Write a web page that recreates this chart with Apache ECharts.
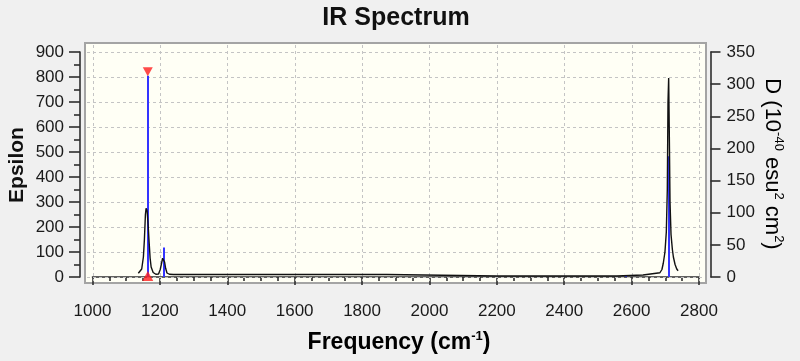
<!DOCTYPE html>
<html>
<head>
<meta charset="utf-8">
<script src="https://cdn.jsdelivr.net/npm/echarts@6/dist/echarts.min.js"></script>
<style>
html,body{margin:0;padding:0;background:#F0F0F0;}
#chart{width:800px;height:361px;}
</style>
</head>
<body>
<div id="chart"></div>
<script>
// ---- data ----
const freqTicks = [1000,1200,1400,1600,1800,2000,2200,2400,2600,2800];
const epsTicks = [0,100,200,300,400,500,600,700,800,900];
const dTicks = [0,50,100,150,200,250,300,350];

const curveFreq = [1136,1141,1146,1151,1154,1157,1159,1162,1165,1168,1171,1174,1180,1188,1196,1201,1205,1208,1211,1214,1217,1221,1228,1240,1500,1873,1876,2200,2556,2560,2634,2638,2684,2690,2694,2699,2703,2706,2708,2710,2712,2714,2717,2721,2724,2729,2734,2738];
const curveEps  = [15,20,32,80,150,250,275,265,210,140,75,40,18,11,12,30,55,75,80,60,35,16,11,10,10,10,4,4,4,8,8,16,17,30,55,100,180,350,700,796,560,300,170,110,80,50,32,25];

const stickFreq = [1164,1211,2582,2712];
const stickD    = [313,46,3,188];

// ---- chart ----
const FONT = "'Liberation Sans', Arial, sans-serif";
const chart = echarts.init(document.getElementById('chart'), null, {renderer:'canvas'});

const gridLine = (vertical) => (params, api) => {
  const cs = params.coordSys;
  if (vertical) {
    const x = Math.round(api.coord([api.value(0), 0])[0]) + 0.5;
    return {type:'line', shape:{x1:x, y1:cs.y+2, x2:x, y2:cs.y+cs.height-2},
      style:{stroke:'#C4C4C4', lineWidth:1, lineDash:[3,3]}, silent:true};
  }
  const y = Math.round(api.coord([1500, api.value(1)])[1]) + 0.5;
  return {type:'line', shape:{x1:cs.x+2, y1:y, x2:cs.x+cs.width-2, y2:y},
    style:{stroke:'#C4C4C4', lineWidth:1, lineDash:[3,3]}, silent:true};
};

const plain = v => String(v);
const axisCommon = {
  axisLine:{show:true, lineStyle:{color:'#2e2e2e', width:1.6}},
  axisTick:{show:true, lineStyle:{color:'#2e2e2e', width:1.6}},
  splitLine:{show:false}
};

const option = {
  backgroundColor:'#F0F0F0',
  animation:false,
  grid:[
    {left:85, top:43, width:621, height:240, show:true, backgroundColor:'#FFFFF5', borderColor:'#A4A4A4', borderWidth:2},
    {left:92.5, right:101, top:52, bottom:84}
  ],
  xAxis:[
    {gridIndex:0, type:'value', min:977.7, max:2820.8, show:false},
    Object.assign({}, axisCommon, {
      gridIndex:1, type:'value', min:1000, max:2800, interval:200, position:'bottom', offset:12,
      axisTick:{show:true, length:8, lineStyle:{color:'#2e2e2e', width:1.6}},
      minorTick:{show:true, splitNumber:4, length:4, lineStyle:{color:'#2e2e2e', width:1.6}},
      axisLabel:{color:'#1a1a1a', fontSize:17, fontFamily:FONT, margin:14, formatter:plain}
    })
  ],
  yAxis:[
    {gridIndex:0, type:'value', min:-24, max:936, show:false},
    {gridIndex:0, type:'value', min:-9.333, max:364, show:false},
    Object.assign({}, axisCommon, {
      gridIndex:1, type:'value', min:0, max:900, interval:100, position:'left', offset:12.5,
      axisTick:{show:true, length:11, lineStyle:{color:'#2e2e2e', width:1.6}},
      minorTick:{show:true, splitNumber:2, length:6, lineStyle:{color:'#2e2e2e', width:1.6}},
      axisLabel:{color:'#1a1a1a', fontSize:17, fontFamily:FONT, margin:16, formatter:plain}
    }),
    Object.assign({}, axisCommon, {
      gridIndex:1, type:'value', min:0, max:350, interval:50, position:'right', offset:11.5,
      axisTick:{show:true, length:10, lineStyle:{color:'#2e2e2e', width:1.6}},
      axisLabel:{color:'#1a1a1a', fontSize:17, fontFamily:FONT, margin:16, formatter:plain}
    })
  ],
  series:[
    {type:'custom', xAxisIndex:0, yAxisIndex:0, z:1, silent:true,
     data: freqTicks.map(v => [v, 0]), renderItem: gridLine(true)},
    {type:'custom', xAxisIndex:0, yAxisIndex:0, z:1, silent:true,
     data: epsTicks.map(v => [1500, v]), renderItem: gridLine(false)},
    {type:'custom', xAxisIndex:0, yAxisIndex:1, z:2, silent:true,
     data: stickFreq.map((f,i) => [f, stickD[i]]),
     renderItem:(params, api) => {
       const p0 = api.coord([api.value(0), 0]);
       const p1 = api.coord([api.value(0), api.value(1)]);
       const x = Math.round(p0[0]);
       return {type:'line', shape:{x1:x, y1:p0[1], x2:x, y2:p1[1]},
         style:{stroke:'#3434FF', lineWidth:2}};
     }},
    {type:'line', xAxisIndex:0, yAxisIndex:0, z:3, silent:true, showSymbol:false, symbol:'none',
     data: curveFreq.map((f,i) => [f, curveEps[i]]),
     lineStyle:{color:'#111', width:1.4}},
    {type:'scatter', xAxisIndex:0, yAxisIndex:1, z:4, silent:true,
     data:[[stickFreq[0], stickD[0]]], symbol:'triangle', symbolRotate:180,
     symbolSize:[10,9], symbolOffset:[0,-4], itemStyle:{color:'#FF1E1E'}},
    {type:'scatter', xAxisIndex:0, yAxisIndex:1, z:4, silent:true,
     data:[[stickFreq[0], 0]], symbol:'triangle',
     symbolSize:[11,10], symbolOffset:[0,-1], itemStyle:{color:'#FF1E1E'}}
  ],
  graphic:[
    {type:'text', x:396, y:18, silent:true,
     style:{text:'IR Spectrum', font:'bold 25px ' + FONT, fill:'#111', textAlign:'center', textVerticalAlign:'middle'}},
    {type:'text', x:17, y:165, rotation:Math.PI/2, silent:true,
     style:{text:'Epsilon', font:'bold 21px ' + FONT, fill:'#111', textAlign:'center', textVerticalAlign:'middle'}},
    {type:'text', x:772, y:164, rotation:-Math.PI/2, silent:true,
     style:{text:'{m|D (10}{s|-40}{m| esu}{s|2}{m| cm}{s|2}{m|)}', textAlign:'center', textVerticalAlign:'middle',
       rich:{
         m:{fontSize:22, fontFamily:FONT, color:'#111', lineHeight:26},
         s:{fontSize:13, fontFamily:FONT, color:'#111', lineHeight:13, verticalAlign:'top'}
       }}},
    {type:'text', x:399, y:343, silent:true,
     style:{text:'{m|Frequency (cm}{s|-1}{m|)}', textAlign:'center', textVerticalAlign:'middle',
       rich:{
         m:{fontSize:23, fontWeight:'bold', fontFamily:FONT, color:'#111', lineHeight:27},
         s:{fontSize:13, fontWeight:'bold', fontFamily:FONT, color:'#111', lineHeight:13, verticalAlign:'top'}
       }}}
  ]
};
chart.setOption(option);
</script>
</body>
</html>
